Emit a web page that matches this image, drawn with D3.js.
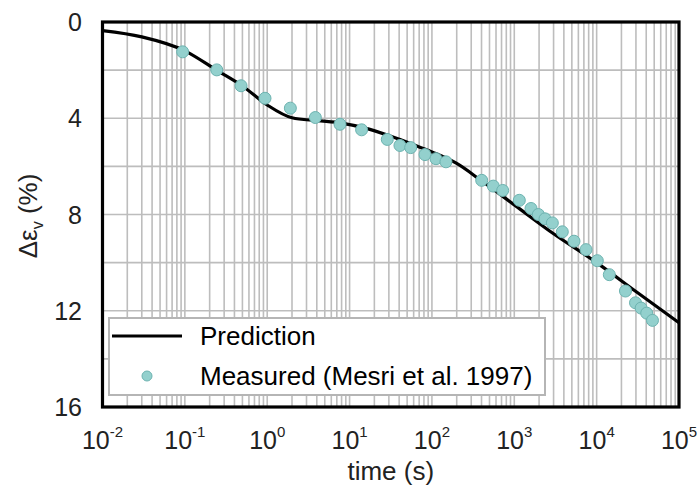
<!DOCTYPE html>
<html><head><meta charset="utf-8">
<script src="https://cdn.jsdelivr.net/npm/d3@7"></script>
<style>body{margin:0;background:#fff}svg{display:block;font-family:Arial,"Liberation Sans",sans-serif}</style>
</head><body><svg id="c" width="700" height="491"></svg>
<script>
// Prediction curve
const predTime = [0.01, 0.03, 0.1, 0.25, 0.5, 1, 2, 4, 8, 15, 30, 60, 100, 200, 400, 1000, 3000, 10000, 30000, 100000];
const predStrain = [0.36, 0.62, 1.2, 2.03, 2.66, 3.45, 3.98, 4.1, 4.2, 4.4, 4.72, 5.1, 5.4, 5.88, 6.6, 7.6, 8.8, 10.0, 11.2, 12.5];
// Measured (Mesri et al. 1997)
const measTime = [0.094, 0.244, 0.481, 0.94, 1.91, 3.84, 7.65, 14.0, 28.7, 40.9, 55.2, 82.4, 112, 148, 402, 556, 723, 1151, 1596, 1959, 2361, 2897, 3828, 5309, 7430, 10190, 14250, 22390, 29640, 34670, 40550, 47640];
const measStrain = [1.24, 1.99, 2.65, 3.17, 3.58, 3.97, 4.25, 4.48, 4.88, 5.13, 5.22, 5.51, 5.68, 5.81, 6.58, 6.82, 7.0, 7.41, 7.75, 8.0, 8.18, 8.35, 8.72, 9.11, 9.46, 9.92, 10.5, 11.18, 11.67, 11.89, 12.1, 12.4];
const xTickExp = [-2, -1, 0, 1, 2, 3, 4, 5];
const yTicks = [0, 4, 8, 12, 16];
const yGrid = [2, 4, 6, 8, 10, 12, 14];

const svg = d3.select("#c");
const L = 102.5, R = 679, T = 22, B = 407;
const x = d3.scaleLog().domain([0.01, 1e5]).range([L, R]);
const y = d3.scaleLinear().domain([0, 16]).range([T, B]);

// grid
const minor = [];
for (let e = -2; e < 5; e++) for (let m = 1; m <= 9; m++) minor.push(m * Math.pow(10, e));
svg.append("g").selectAll("line").data(minor).join("line")
  .attr("x1", d => x(d)).attr("x2", d => x(d)).attr("y1", T).attr("y2", B)
  .attr("stroke", "#bdbdbd").attr("stroke-width", 1.6);
svg.append("g").selectAll("line").data(yGrid).join("line")
  .attr("x1", L).attr("x2", R).attr("y1", d => y(d)).attr("y2", d => y(d))
  .attr("stroke", "#bdbdbd").attr("stroke-width", 1.6);

// prediction line
const pred = predTime.map((t, i) => [t, predStrain[i]]);
svg.append("path").datum(pred)
  .attr("d", d3.line().x(d => x(d[0])).y(d => y(d[1])).curve(d3.curveMonotoneX))
  .attr("fill", "none").attr("stroke", "#000").attr("stroke-width", 3.2);

// measured points
const meas = measTime.map((t, i) => [t, measStrain[i]]);
svg.append("g").selectAll("circle").data(meas).join("circle")
  .attr("cx", d => x(d[0])).attr("cy", d => y(d[1])).attr("r", 6)
  .attr("fill", "#93d0cd").attr("stroke", "#6db3b0").attr("stroke-width", 1);

// frame
svg.append("rect").attr("x", L).attr("y", T).attr("width", R - L).attr("height", B - T)
  .attr("fill", "none").attr("stroke", "#000").attr("stroke-width", 3.2);

// legend
const lg = svg.append("g");
lg.append("rect").attr("x", 109).attr("y", 318).attr("width", 436).attr("height", 77)
  .attr("fill", "#fff").attr("stroke", "#b5b5b5").attr("stroke-width", 2);
lg.append("line").attr("x1", 112).attr("x2", 182).attr("y1", 336).attr("y2", 336)
  .attr("stroke", "#000").attr("stroke-width", 3.2);
lg.append("text").attr("x", 200).attr("y", 345).attr("font-size", 26).text("Prediction");
lg.append("circle").attr("cx", 147).attr("cy", 376).attr("r", 5)
  .attr("fill", "#93d0cd").attr("stroke", "#6db3b0");
lg.append("text").attr("x", 200).attr("y", 385).attr("font-size", 26).text("Measured (Mesri et al. 1997)");

// y tick labels
svg.append("g").selectAll("text").data(yTicks).join("text")
  .attr("x", 82).attr("y", d => y(d)).attr("dy", "0.36em")
  .attr("text-anchor", "end").attr("font-size", 25).attr("fill", "#222").text(d => d);

// x tick labels
const xl = svg.append("g").selectAll("text").data(xTickExp).join("text")
  .attr("x", d => x(Math.pow(10, d))).attr("y", 449)
  .attr("text-anchor", "middle").attr("font-size", 25).attr("fill", "#222");
xl.append("tspan").text("10");
xl.append("tspan").attr("font-size", 15).attr("dy", -12).text(d => d);

// axis titles
svg.append("text").attr("x", (L + R) / 2).attr("y", 480).attr("text-anchor", "middle")
  .attr("font-size", 26).attr("fill", "#222").text("time (s)");
const yt = svg.append("text").attr("transform", "translate(37,216) rotate(-90)")
  .attr("text-anchor", "middle").attr("font-size", 26).attr("fill", "#222");
yt.append("tspan").text("Δε");
yt.append("tspan").attr("font-size", 16).attr("dy", 6).text("v");
yt.append("tspan").attr("dy", -6).text(" (%)");
</script></body></html>
